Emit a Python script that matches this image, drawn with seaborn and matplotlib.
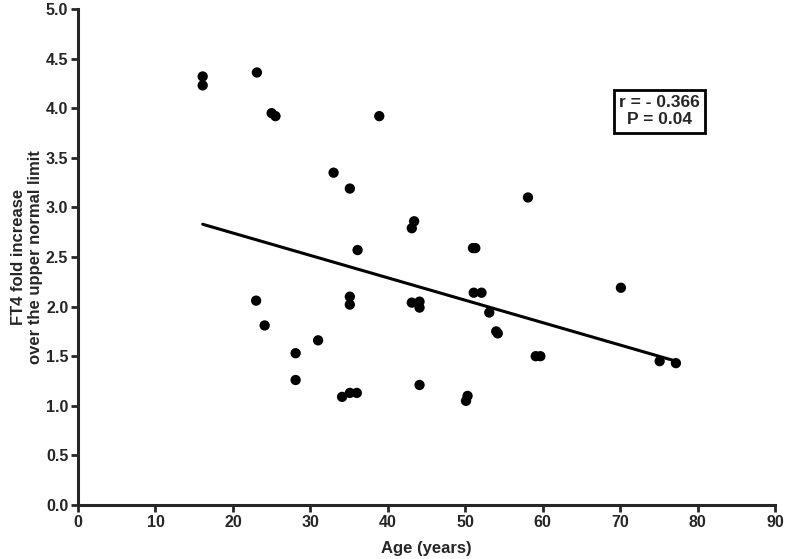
import numpy as np
import pandas as pd
import matplotlib
matplotlib.use("Agg")
import matplotlib.pyplot as plt
import seaborn as sns

# === Daten ===
age = [16.1, 16.1, 23.1, 25.0, 25.5, 38.9, 33.0, 35.1, 58.1, 43.4,
       43.1, 36.1, 51.0, 51.3, 70.1, 51.1, 52.1, 35.1, 35.1, 43.1,
       44.1, 44.1, 23.0, 53.1, 24.1, 54.0, 54.2, 31.0, 28.1, 59.1,
       59.7, 75.1, 77.2, 28.1, 44.1, 34.1, 35.1, 36.0, 50.3, 50.1]
ft4 = [4.32, 4.23, 4.36, 3.95, 3.92, 3.92, 3.35, 3.19, 3.10, 2.86,
       2.79, 2.57, 2.59, 2.59, 2.19, 2.14, 2.14, 2.10, 2.02, 2.04,
       2.05, 1.99, 2.06, 1.94, 1.81, 1.75, 1.73, 1.66, 1.53, 1.50,
       1.50, 1.45, 1.43, 1.26, 1.21, 1.09, 1.13, 1.13, 1.10, 1.05]
fit_age = [16.1, 77.2]
fit_ft4 = [2.83, 1.45]
x_ticks = [0, 10, 20, 30, 40, 50, 60, 70, 80, 90]
y_ticks = [0.0, 0.5, 1.0, 1.5, 2.0, 2.5, 3.0, 3.5, 4.0, 4.5, 5.0]
stat_text = "r = - 0.366\nP = 0.04"

df = pd.DataFrame({"age": age, "ft4": ft4})
fit_df = pd.DataFrame({"age": fit_age, "ft4": fit_ft4})

sns.set_style("ticks")
plt.rcParams["font.family"] = ["Liberation Sans", "DejaVu Sans"]
plt.rcParams["font.weight"] = "bold"

fig = plt.figure(figsize=(7.87, 5.59), dpi=100)
ax = fig.add_axes([0.0991, 0.0966, 0.8857, 0.8873])

sns.lineplot(data=fit_df, x="age", y="ft4", ax=ax, color="black",
             linewidth=2.2)
sns.scatterplot(data=df, x="age", y="ft4", ax=ax, color="black", s=55,
                edgecolor="none", zorder=3)

ax.set_xlim(0, 90)
ax.set_ylim(0, 5.0)
ax.set_xticks(x_ticks)
ax.set_yticks(y_ticks)
ax.set_yticklabels([f"{v:.1f}" for v in y_ticks])
ax.tick_params(axis="both", direction="out", length=5, width=2,
               labelsize=11.5, pad=2)
for lab in ax.get_xticklabels() + ax.get_yticklabels():
    lab.set_fontweight("bold")

sns.despine(ax=ax)
for sp in ["left", "bottom"]:
    ax.spines[sp].set_linewidth(2.2)

ax.set_xlabel("Age (years)", fontsize=12, fontweight="bold", labelpad=8)
ax.set_ylabel("FT4 fold increase\nover the upper normal limit",
              fontsize=12, fontweight="bold", labelpad=2)

ax.text(0.834, 0.794, stat_text, transform=ax.transAxes, ha="center",
        va="center", fontsize=12.5, fontweight="bold", linespacing=1.2,
        bbox=dict(boxstyle="square,pad=0.3", facecolor="white",
                  edgecolor="black", linewidth=2))

fig.savefig("out.png", dpi=100)
